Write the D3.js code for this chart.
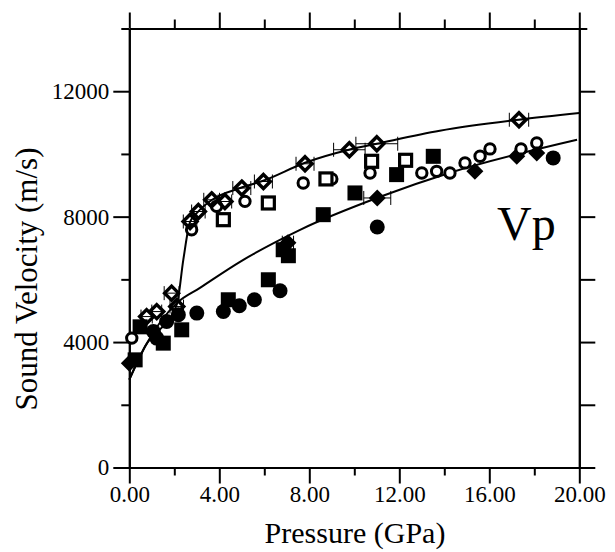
<!DOCTYPE html>
<html>
  <head>
    <meta charset="utf-8">
    <script src="https://d3js.org/d3.v7.min.js"></script>
  </head>

    <style type="text/css">
      body { margin: 0; background: #fff; }
      svg { display: block; font-family: "Liberation Serif", "Times New Roman", serif; }
      .axis path, .axis line { stroke: #000; stroke-width: 2px; }
      .axis text { font-family: "Liberation Serif", "Times New Roman", serif; font-size: 23px; fill: #000; }
      .fit { fill: none; stroke: #000; stroke-width: 2px; }
      .err { stroke: #000; stroke-width: 1px; }
      .title { font-size: 30px; fill: #000; }
    </style>

  <body>
    <div id="chart"></div>

  <script type="text/javascript">

    // tick values
    var pressureTicks = [0, 4, 8, 12, 16, 20];
    var pressureMinor = [2, 6, 10, 14, 18];
    var velocityTicks = [0, 4000, 8000, 12000];
    var velocityMinor = [2000, 6000, 10000, 14000];

    // fitted curves [P (GPa), Vp (m/s)]
    var lowerFit = [[0, 2800], [0.7, 3857], [2.12, 5250], [3.14, 5729], [4.92, 6559],
                    [7.59, 7580], [11.15, 8633], [14.25, 9399], [19.9, 10452]];
    var upperFit = [[0, 2800], [0.7, 3857], [2.12, 5220], [2.4, 6622], [2.7, 7835],
                    [3.05, 8154], [3.68, 8537], [4.96, 8920], [5.95, 9144], [7.81, 9718],
                    [9.76, 10133], [11.0, 10324], [13.8, 10740], [17.3, 11090], [20, 11304]];

    // data points [P, Vp, P error]
    var openDiamonds = [[0.77, 4813, 0.25], [1.22, 4972, 0.22], [1.88, 5560, 0.33], [2.11, 5132, 0.3],
                        [2.70, 7845, 0.3], [3.07, 8164, 0.3], [3.66, 8537, 0.35], [4.25, 8483, 0.3],
                        [5.0, 8911, 0.4], [5.96, 9121, 0.4], [7.81, 9686, 0.4], [9.78, 10133, 0.7],
                        [11.0, 10325, 0.93], [17.32, 11090, 0.43]];
    var filledDiamonds = [[0, 3327, 0], [7.05, 7169, 0.25], [11.02, 8596, 0.6],
                          [15.36, 9446, 0], [17.22, 9924, 0], [18.11, 10033, 0]];
    var openCircles = [[0.11, 4126], [2.77, 7584], [3.88, 8328], [5.14, 8487], [7.73, 9075],
                       [9.0, 9203], [10.7, 9394], [13.0, 9394], [13.66, 9445], [14.25, 9394],
                       [14.92, 9714], [15.59, 9924], [16.03, 10160], [17.41, 10160], [18.11, 10352]];
    var filledCircles = [[1.07, 4336], [1.22, 4126], [1.66, 4656], [2.18, 4870], [3.0, 4924],
                         [4.18, 4975], [4.89, 5157], [5.56, 5349], [6.70, 5636], [11.02, 7670],
                         [18.84, 9873]];
    var openSquares = [[4.18, 7903], [6.18, 8436], [8.74, 9203], [10.77, 9765], [12.28, 9797]];
    var filledSquares = [[0.26, 3433], [0.48, 4486], [1.51, 3966], [2.33, 4391], [4.40, 5349],
                         [6.18, 5987], [6.84, 6945], [7.07, 6754], [8.62, 8063], [10.03, 8756],
                         [11.88, 9340], [13.51, 9924]];

    var width = 615;
    var height = 552;

    var svg = d3.select("#chart")
      .append("svg")
        .attr("width", width)
        .attr("height", height);

    var x = d3.scaleLinear()
        .domain([0, 20])
        .range([129.3, 579.3]);

    var y = d3.scaleLinear()
        .domain([0, 14000])
        .range([467.5, 28.5]);

    // axes, ticks pointing outward
    svg.append("g")
        .attr("class", "axis")
        .attr("transform", "translate(0," + y(0) + ")")
        .call(d3.axisBottom(x).tickValues(pressureTicks).tickSize(16).tickSizeOuter(0)
          .tickPadding(2).tickFormat(d3.format(".2f")));
    svg.append("g")
        .attr("class", "axis")
        .attr("transform", "translate(0," + y(0) + ")")
        .call(d3.axisBottom(x).tickValues(pressureMinor).tickSize(8).tickSizeOuter(0).tickFormat(""));

    svg.append("g")
        .attr("class", "axis")
        .attr("transform", "translate(0," + y(14000) + ")")
        .call(d3.axisTop(x).tickValues(pressureTicks).tickSize(16).tickSizeOuter(0).tickFormat(""));
    svg.append("g")
        .attr("class", "axis")
        .attr("transform", "translate(0," + y(14000) + ")")
        .call(d3.axisTop(x).tickValues(pressureMinor).tickSize(9).tickSizeOuter(0).tickFormat(""));

    svg.append("g")
        .attr("class", "axis")
        .attr("transform", "translate(" + x(0) + ",0)")
        .call(d3.axisLeft(y).tickValues(velocityTicks).tickSize(16).tickSizeOuter(0)
          .tickPadding(4).tickFormat(d3.format("d")));
    svg.append("g")
        .attr("class", "axis")
        .attr("transform", "translate(" + x(0) + ",0)")
        .call(d3.axisLeft(y).tickValues(velocityMinor).tickSize(8).tickSizeOuter(0).tickFormat(""));

    svg.append("g")
        .attr("class", "axis")
        .attr("transform", "translate(" + x(20) + ",0)")
        .call(d3.axisRight(y).tickValues(velocityTicks.concat(velocityMinor.slice(0, 3)))
          .tickSize(16).tickSizeOuter(0).tickFormat(""));
    svg.append("g")
        .attr("class", "axis")
        .attr("transform", "translate(" + x(20) + ",0)")
        .call(d3.axisRight(y).tickValues([14000]).tickSize(8).tickSizeOuter(0).tickFormat(""));

    // fitted lines
    var line = d3.line()
        .x(function(d) { return x(d[0]); })
        .y(function(d) { return y(d[1]); })
        .curve(d3.curveMonotoneX);

    svg.append("path").datum(lowerFit).attr("class", "fit").attr("d", line);
    svg.append("path").datum(upperFit).attr("class", "fit").attr("d", line);

    // error bars
    var withErr = openDiamonds.concat(filledDiamonds).filter(function(d) { return d[2] > 0; });
    var bars = svg.append("g").attr("class", "err");
    bars.selectAll(".h").data(withErr).enter().append("line")
        .attr("x1", function(d) { return x(d[0] - d[2]); })
        .attr("x2", function(d) { return x(d[0] + d[2]); })
        .attr("y1", function(d) { return y(d[1]); })
        .attr("y2", function(d) { return y(d[1]); });
    bars.selectAll(".l").data(withErr).enter().append("line")
        .attr("x1", function(d) { return x(d[0] - d[2]); })
        .attr("x2", function(d) { return x(d[0] - d[2]); })
        .attr("y1", function(d) { return y(d[1]) - 7; })
        .attr("y2", function(d) { return y(d[1]) + 7; });
    bars.selectAll(".r").data(withErr).enter().append("line")
        .attr("x1", function(d) { return x(d[0] + d[2]); })
        .attr("x2", function(d) { return x(d[0] + d[2]); })
        .attr("y1", function(d) { return y(d[1]) - 7; })
        .attr("y2", function(d) { return y(d[1]) + 7; });

    function diamond(r) {
      return "M0," + (-r) + "L" + r + ",0L0," + r + "L" + (-r) + ",0Z";
    }
    function place(d) { return "translate(" + x(d[0]) + "," + y(d[1]) + ")"; }

    svg.append("g").selectAll("circle").data(filledCircles).enter().append("circle")
        .attr("cx", function(d) { return x(d[0]); })
        .attr("cy", function(d) { return y(d[1]); })
        .attr("r", 7.5)
        .attr("fill", "#000");

    svg.append("g").selectAll("rect").data(filledSquares).enter().append("rect")
        .attr("x", function(d) { return x(d[0]) - 7.5; })
        .attr("y", function(d) { return y(d[1]) - 7.5; })
        .attr("width", 15)
        .attr("height", 15)
        .attr("fill", "#000");

    svg.append("g").selectAll("path").data(filledDiamonds).enter().append("path")
        .attr("transform", place)
        .attr("d", diamond(8.5))
        .attr("fill", "#000");

    svg.append("g").selectAll("circle").data(openCircles).enter().append("circle")
        .attr("cx", function(d) { return x(d[0]); })
        .attr("cy", function(d) { return y(d[1]); })
        .attr("r", 5.2)
        .attr("fill", "#fff")
        .attr("stroke", "#000")
        .attr("stroke-width", 3);

    svg.append("g").selectAll("rect").data(openSquares).enter().append("rect")
        .attr("x", function(d) { return x(d[0]) - 6; })
        .attr("y", function(d) { return y(d[1]) - 6; })
        .attr("width", 12)
        .attr("height", 12)
        .attr("fill", "#fff")
        .attr("stroke", "#000")
        .attr("stroke-width", 3.2);

    svg.append("g").selectAll("path").data(openDiamonds).enter().append("path")
        .attr("transform", place)
        .attr("d", diamond(7))
        .attr("fill", "none")
        .attr("stroke", "#000")
        .attr("stroke-width", 3.4);

    // labels
    svg.append("text")
        .attr("class", "title")
        .attr("x", 355)
        .attr("y", 543)
        .attr("text-anchor", "middle")
        .text("Pressure (GPa)");

    svg.append("text")
        .attr("class", "title")
        .attr("transform", "translate(37,279) rotate(-90)")
        .attr("text-anchor", "middle")
        .style("font-size", "31px")
        .text("Sound Velocity (m/s)");

    svg.append("text")
        .attr("x", 497)
        .attr("y", 240)
        .style("font-size", "48px")
        .text("Vp");

  </script>
  </body>
</html>
